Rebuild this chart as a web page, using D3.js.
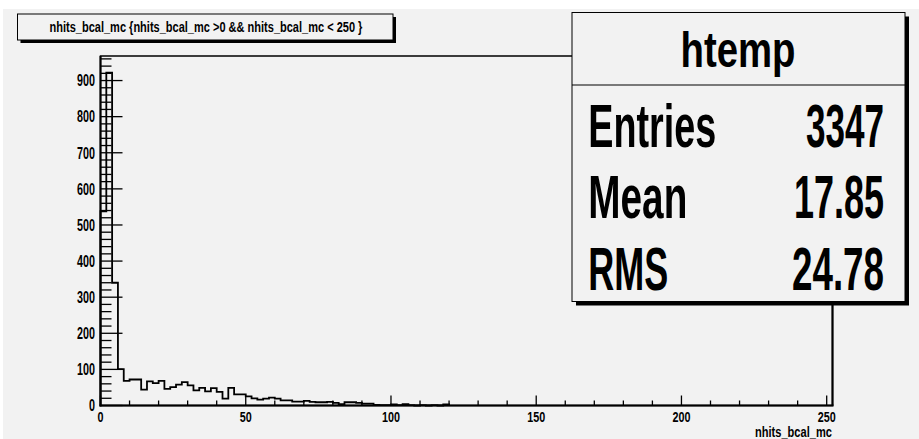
<!DOCTYPE html>
<html>
<head>
<meta charset="utf-8">
<script src="https://cdn.jsdelivr.net/npm/d3@7"></script>
<style>
  html, body { margin: 0; padding: 0; background: #ffffff; }
  svg { display: block; }
  text { font-family: "Liberation Sans Narrow", "Liberation Sans", "DejaVu Sans Condensed", sans-serif; font-weight: bold; fill: #000; }
</style>
</head>
<body>
<svg id="chart" width="919" height="439"></svg>
<script>
// ---- data ----
const binWidth = 2;
const xDomain = [0, 252];
const counts = [
  538, 922, 340, 101, 68, 72, 72, 44, 67, 62,
  68, 46, 51, 58, 65, 56, 42, 49, 39, 48,
  38, 19, 49, 31, 31, 25, 20, 16, 19, 22,
  19, 14, 14, 11, 11, 13, 10, 9, 9, 10,
  7, 4, 9, 9, 7, 5, 5, 2, 1, 1,
  3, 1, 4, 1, 0, 1, 0, 1, 0, 3
];
const xTickLabels = [0, 50, 100, 150, 200, 250];
const yTickLabels = [0, 100, 200, 300, 400, 500, 600, 700, 800, 900];
const titleText = "nhits_bcal_mc {nhits_bcal_mc >0 && nhits_bcal_mc < 250 }";
const xAxisTitle = "nhits_bcal_mc";
const statsName = "htemp";
const statsLabels = ["Entries", "Mean", "RMS"];
const statsValues = ["3347", "17.85", "24.78"];

// ---- layout ----
const svg = d3.select("#chart");
const W = 919, H = 439;
const fL = 100.5, fR = 832.5, fT = 56, fB = 405.5;
const bg = "#f2f2f2";

// Draw a text at (px,py) and squeeze it horizontally to a given width.
function fitText(parent, str, px, py, size, width, anchor) {
  const g = parent.append("g");
  const t = g.append("text").attr("font-size", size).attr("text-anchor", "start").text(str);
  const natural = t.node().getComputedTextLength() || width;
  const s = width / natural;
  let left = px;
  if (anchor === "middle") left = px - width / 2;
  else if (anchor === "end") left = px - width;
  g.attr("transform", `translate(${left},${py}) scale(${s},1)`);
  return t;
}

svg.append("rect").attr("width", W).attr("height", H).attr("fill", "#fff");
svg.append("rect").attr("x", 3).attr("y", 9).attr("width", W - 3).attr("height", H - 9).attr("fill", bg);

const x = d3.scaleLinear().domain(xDomain).range([fL, fR]);
const y = d3.scaleLinear().domain([0, 968]).range([fB, fT]);

// frame
svg.append("rect").attr("x", fL).attr("y", fT).attr("width", fR - fL).attr("height", fB - fT)
  .attr("fill", bg).attr("stroke", "#000").attr("stroke-width", 1.5);

// histogram outline (step)
const pts = [[x(xDomain[0]), y(0)]];
counts.forEach((c, i) => {
  pts.push([x(i * binWidth), y(c)]);
  pts.push([x((i + 1) * binWidth), y(c)]);
});
pts.push([x(counts.length * binWidth), y(0)]);
svg.append("path").attr("d", d3.line()(pts)).attr("fill", "none")
  .attr("stroke", "#000").attr("stroke-width", 1.8).attr("stroke-linejoin", "miter");

// x axis ticks (inward, upward)
const xMinor = d3.range(xDomain[0], 251, 10);
svg.append("g").selectAll("line").data(xMinor).join("line")
  .attr("x1", d => x(d)).attr("x2", d => x(d))
  .attr("y1", fB).attr("y2", d => fB - (d % 50 === 0 ? 10 : 5))
  .attr("stroke", "#000").attr("stroke-width", 1.3);
const xLab = svg.append("g");
xTickLabels.forEach(d => fitText(xLab, String(d), x(d), 422, 15.5, String(d).length * 6, "middle"));

// y axis ticks (inward, rightward)
const yMinor = d3.range(0, 961, 20);
svg.append("g").selectAll("line").data(yMinor).join("line")
  .attr("x1", fL).attr("x2", d => fL + (d % 100 === 0 ? 22 : 11))
  .attr("y1", d => y(d)).attr("y2", d => y(d))
  .attr("stroke", "#000").attr("stroke-width", 1.3);
const yLab = svg.append("g");
yTickLabels.forEach(d => fitText(yLab, String(d), 95, y(d) + 5.8, 16, String(d).length * 6, "end"));

// axis lines (thicker)
svg.append("line").attr("x1", fL).attr("x2", fL).attr("y1", fT).attr("y2", fB + 1)
  .attr("stroke", "#000").attr("stroke-width", 2);
svg.append("line").attr("x1", fL - 1).attr("x2", fR + 1).attr("y1", fB).attr("y2", fB)
  .attr("stroke", "#000").attr("stroke-width", 2);
svg.append("line").attr("x1", fR).attr("x2", fR).attr("y1", fT).attr("y2", fB)
  .attr("stroke", "#000").attr("stroke-width", 2);

// x axis title
fitText(svg, xAxisTitle, 832, 437, 14.5, 77, "end");

// title box
const tb = {x: 17.5, y: 14, w: 375.5, h: 26};
svg.append("rect").attr("x", tb.x + 3).attr("y", tb.y + 3).attr("width", tb.w).attr("height", tb.h).attr("fill", "#000");
svg.append("rect").attr("x", tb.x).attr("y", tb.y).attr("width", tb.w).attr("height", tb.h)
  .attr("fill", bg).attr("stroke", "#000").attr("stroke-width", 1);
fitText(svg, titleText, 206, 31.5, 15, 313, "middle");

// stats box
const sb = {x: 572, y: 12.5, w: 333, h: 289};
svg.append("rect").attr("x", sb.x + 4).attr("y", sb.y + 4).attr("width", sb.w).attr("height", sb.h).attr("fill", "#000");
svg.append("rect").attr("x", sb.x).attr("y", sb.y).attr("width", sb.w).attr("height", sb.h)
  .attr("fill", bg).attr("stroke", "#000").attr("stroke-width", 1);
svg.append("line").attr("x1", sb.x).attr("x2", sb.x + sb.w).attr("y1", 85).attr("y2", 85)
  .attr("stroke", "#000").attr("stroke-width", 1);
fitText(svg, statsName, 738, 66.7, 50, 115, "middle");
const rowY = [146.7, 218, 290];
const labelLen = [128, 99, 80];
const valueLen = [78, 90, 92];
const statsG = svg.append("g");
statsLabels.forEach((d, i) => fitText(statsG, d, 588.3, rowY[i], 62, labelLen[i], "start"));
statsValues.forEach((d, i) => fitText(statsG, d, 884, rowY[i], 62, valueLen[i], "end"));
</script>
</body>
</html>
